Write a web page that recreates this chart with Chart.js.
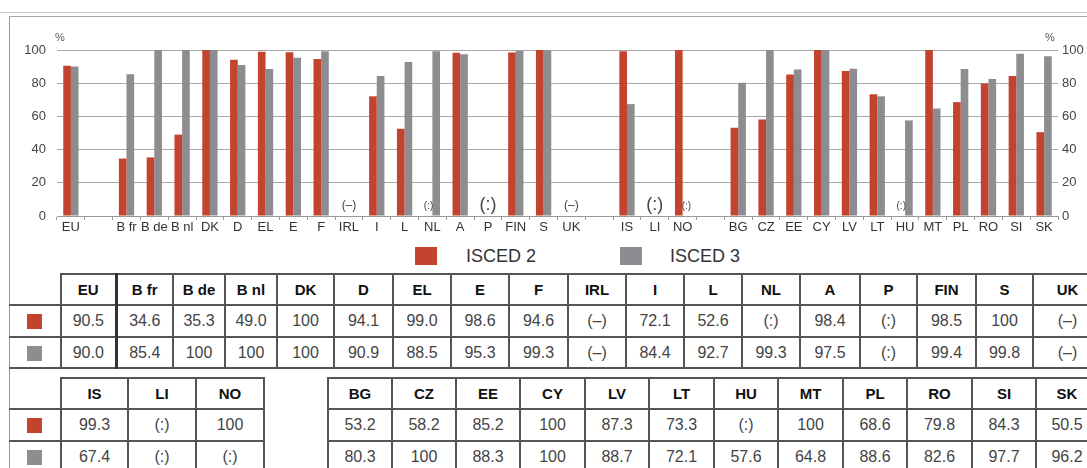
<!DOCTYPE html>
<html>
<head>
<meta charset="utf-8">
<script src="https://cdn.jsdelivr.net/npm/chart.js@4.4.1/dist/chart.umd.min.js"></script>
<style>
  body { margin: 0; background: #fff; font-family: "Liberation Sans", Arial, sans-serif; }
  #page { position: relative; width: 1087px; height: 468px; overflow: hidden; }
  #lineTop { position: absolute; left: 0; top: 12px; width: 1087px; height: 0; border-top: 1px solid #c8c8c8; }
  #box { position: absolute; left: 9px; top: 16px; width: 1100px; height: 470px; border-left: 1px solid #999; border-top: 1px solid #aaa; }
  #chart { position: absolute; left: 0; top: 0; }
  .leg { position: absolute; font-size: 18px; color: #333; line-height: 18px; }
  .sw { position: absolute; width: 22px; height: 18px; }
  table { position: absolute; border-collapse: collapse; table-layout: fixed; }
  td { border: 2px solid #555; text-align: center; padding: 0; font-size: 16px; color: #444; overflow: hidden; white-space: nowrap; }
  tr.head td { font-weight: bold; font-size: 15px; color: #111; }
  td.swc { border-left: none; }
  tr.head td.swc { border-top: none; }
  td.gap { border-top: none; border-bottom: none; }
  td.thick { border-left: 3px solid #333; }
  .mark { display: inline-block; width: 15px; height: 15px; vertical-align: middle; }
</style>
</head>
<body>
<div id="page">
  <div id="lineTop"></div>
  <div id="box"></div>
  <canvas id="chart" width="1087" height="240"></canvas>
  <div class="sw" style="left:415px;top:247px;background:#c2432e"></div>
  <div class="leg" style="left:466px;top:247px">ISCED 2</div>
  <div class="sw" style="left:620px;top:247px;background:#8d8d91"></div>
  <div class="leg" style="left:670px;top:247px">ISCED 3</div>
  <table id="t1" style="left:9px;top:273px"></table>
  <table id="t2" style="left:9px;top:377px"></table>
</div>
<script>
// empty strings are the blank slots between country groups
const countries = ['EU', '', 'B fr', 'B de', 'B nl', 'DK', 'D', 'EL', 'E', 'F', 'IRL', 'I', 'L', 'NL', 'A', 'P', 'FIN', 'S', 'UK',
  '', 'IS', 'LI', 'NO', '', 'BG', 'CZ', 'EE', 'CY', 'LV', 'LT', 'HU', 'MT', 'PL', 'RO', 'SI', 'SK'];
const isced2 = [90.5, null, 34.6, 35.3, 49.0, 100, 94.1, 99.0, 98.6, 94.6, null, 72.1, 52.6, null, 98.4, null, 98.5, 100, null,
  null, 99.3, null, 100, null, 53.2, 58.2, 85.2, 100, 87.3, 73.3, null, 100, 68.6, 79.8, 84.3, 50.5];
const isced3 = [90.0, null, 85.4, 100, 100, 100, 90.9, 88.5, 95.3, 99.3, null, 84.4, 92.7, 99.3, 97.5, null, 99.4, 99.8, null,
  null, 67.4, null, null, null, 80.3, 100, 88.3, 100, 88.7, 72.1, 57.6, 64.8, 88.6, 82.6, 97.7, 96.2];
// (–) not applicable, (:) not available
const notes2 = { IRL: '(–)', NL: '(:)', P: '(:)', UK: '(–)', LI: '(:)', HU: '(:)' };
const notes3 = { IRL: '(–)', P: '(:)', UK: '(–)', LI: '(:)', NO: '(:)' };
const yTicks = [0, 20, 40, 60, 80, 100];

const table1 = ['EU', 'B fr', 'B de', 'B nl', 'DK', 'D', 'EL', 'E', 'F', 'IRL', 'I', 'L', 'NL', 'A', 'P', 'FIN', 'S', 'UK'];
const table2 = ['IS', 'LI', 'NO', '', 'BG', 'CZ', 'EE', 'CY', 'LV', 'LT', 'HU', 'MT', 'PL', 'RO', 'SI', 'SK'];

const red = '#c2432e';
const grey = '#8d8d91';

function cellText(c, arr, notes) {
  const v = arr[countries.indexOf(c)];
  if (v == null) return notes[c] || '';
  return v === 100 ? '100' : v.toFixed(1);
}

function buildTable(id, list, edges) {
  const t = document.getElementById(id);
  t.style.width = (edges[edges.length - 1] - edges[0]) + 'px';
  let html = '<colgroup>';
  for (let i = 0; i < edges.length - 1; i++) html += `<col style="width:${edges[i + 1] - edges[i]}px">`;
  html += '</colgroup>';
  const rows = [
    { cls: 'head', h: 31, f: c => c },
    { cls: '', h: 32, f: c => cellText(c, isced2, notes2), mark: red },
    { cls: '', h: 31, f: c => cellText(c, isced3, notes3), mark: grey },
  ];
  rows.forEach(r => {
    html += `<tr class="${r.cls}" style="height:${r.h}px">`;
    html += `<td class="swc">${r.mark ? `<span class="mark" style="background:${r.mark}"></span>` : ''}</td>`;
    list.forEach(c => {
      const cls = c === '' ? 'gap' : (c === 'B fr' ? 'thick' : '');
      html += `<td class="${cls}">${c === '' ? '' : r.f(c)}</td>`;
    });
    html += '</tr>';
  });
  t.innerHTML = html;
}

buildTable('t1', table1, [9, 61, 116, 173, 225, 277, 334, 393, 451, 509, 568, 626, 684, 742, 800, 860, 917, 976, 1033, 1102]);
buildTable('t2', table2, [9, 61, 128, 196, 264, 328, 392, 456, 520, 585, 649, 714, 778, 843, 907, 972, 1036, 1098]);

// notes inside the plot for missing values, plus the % unit labels
const notesPlugin = {
  id: 'notes',
  afterDatasetsDraw(chart) {
    const { ctx, chartArea } = chart;
    const m0 = chart.getDatasetMeta(0).data;
    const m1 = chart.getDatasetMeta(1).data;
    ctx.save();
    ctx.fillStyle = '#444';
    ctx.textAlign = 'center';
    ctx.textBaseline = 'middle';
    countries.forEach((c, i) => {
      const a = notes2[c], b = notes3[c];
      if (!a && !b) return;
      const yPos = chartArea.bottom - 10;
      if (a && b) {
        const cx = (m0[i].x + m1[i].x) / 2;
        ctx.font = a === '(:)' ? '18px "Liberation Sans", Arial' : '12px "Liberation Sans", Arial';
        ctx.fillText(a, cx, a === '(:)' ? yPos - 1 : yPos);
      } else {
        ctx.font = '10px "Liberation Sans", Arial';
        ctx.fillText(a || b, a ? m0[i].x : m1[i].x, yPos);
      }
    });
    ctx.font = '11px "Liberation Sans", Arial';
    ctx.fillStyle = '#555';
    ctx.fillText('%', chartArea.left + 3, chartArea.top - 12);
    ctx.fillText('%', chartArea.right - 8, chartArea.top - 12);
    ctx.restore();
  }
};

const tickFont = { family: '"Liberation Sans", Arial', size: 13 };

new Chart(document.getElementById('chart'), {
  type: 'bar',
  data: {
    labels: countries,
    datasets: [
      { label: 'ISCED 2', data: isced2, backgroundColor: red, yAxisID: 'y' },
      { label: 'ISCED 3', data: isced3, backgroundColor: grey, yAxisID: 'y' }
    ]
  },
  options: {
    responsive: false,
    animation: false,
    devicePixelRatio: 1,
    layout: { padding: { top: 50 } },
    datasets: { bar: { categoryPercentage: 0.55, barPercentage: 1 } },
    plugins: { legend: { display: false }, tooltip: { enabled: false } },
    scales: {
      x: {
        grid: { display: true, drawOnChartArea: false, offset: true, tickLength: 4, color: '#999' },
        border: { display: true, color: '#999' },
        ticks: { autoSkip: false, maxRotation: 0, padding: 0, color: '#333', font: { family: '"Liberation Sans", Arial', size: 13 } },
        afterFit: s => { s.height = 24; }
      },
      y: {
        position: 'left',
        min: 0, max: 100,
        afterBuildTicks: s => { s.ticks = yTicks.map(v => ({ value: v })); },
        grid: { color: '#a8a8a8', drawTicks: false },
        border: { display: false },
        ticks: { padding: 11, color: '#444', font: tickFont },
        afterFit: s => { s.width = 57; }
      },
      y2: {
        position: 'right',
        min: 0, max: 100,
        afterBuildTicks: s => { s.ticks = yTicks.map(v => ({ value: v })); },
        grid: { display: false, drawTicks: false },
        border: { display: false },
        ticks: { padding: 4, color: '#444', font: tickFont },
        afterFit: s => { s.width = 29; }
      }
    }
  },
  plugins: [notesPlugin]
});
</script>
</body>
</html>
